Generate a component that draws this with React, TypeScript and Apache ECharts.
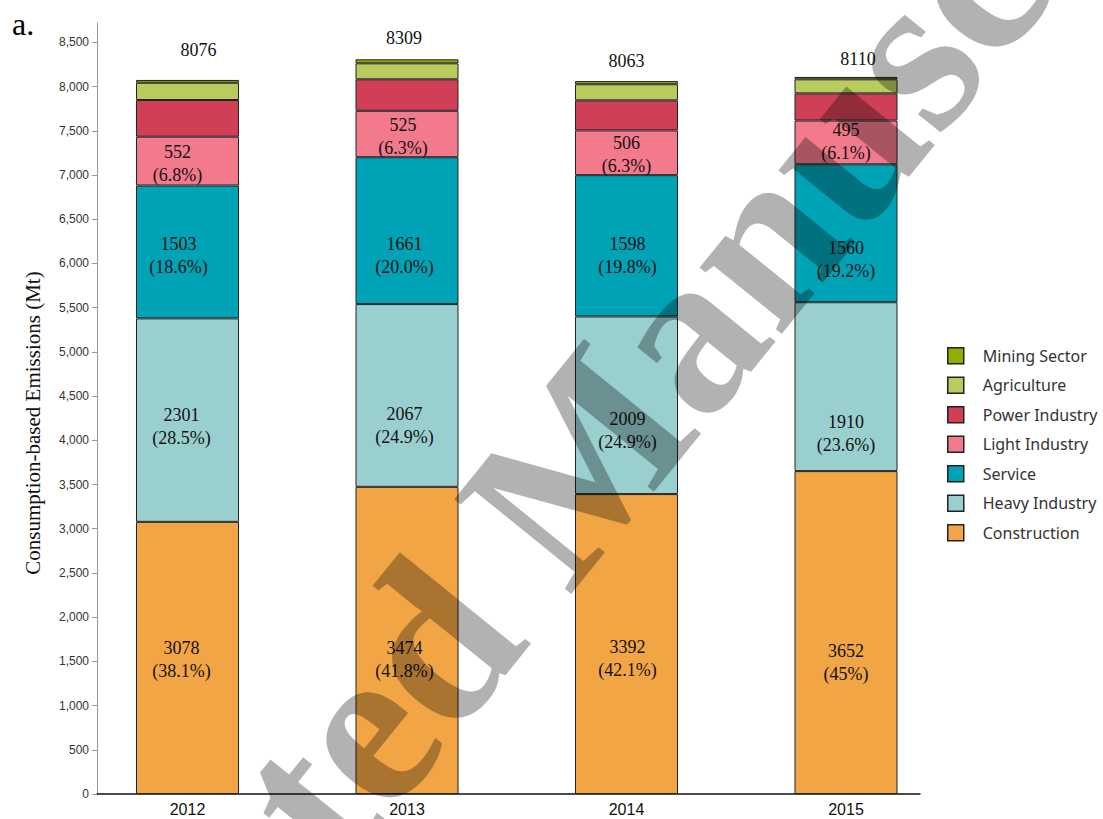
import React, { useEffect, useRef } from "react";
import * as echarts from "echarts";

// Consumption-based emissions by sector (Mt), 2012-2015
const years = ["2012", "2013", "2014", "2015"];
const construction = [3078, 3474, 3392, 3652];
const heavyIndustry = [2301, 2067, 2009, 1910];
const service = [1503, 1661, 1598, 1560];
const lightIndustry = [552, 525, 506, 495];
const powerIndustry = [415, 356, 340, 307];
const agriculture = [195, 181, 182, 159];
const miningSector = [32, 45, 36, 27];
const totals = [8076, 8309, 8063, 8110];

// Shares printed under the values
const constructionPct = ["38.1%", "41.8%", "42.1%", "45%"];
const heavyPct = ["28.5%", "24.9%", "24.9%", "23.6%"];
const servicePct = ["18.6%", "20.0%", "19.8%", "19.2%"];
const lightPct = ["6.8%", "6.3%", "6.3%", "6.1%"];

const yTicks = [0, 500, 1000, 1500, 2000, 2500, 3000, 3500, 4000, 4500, 5000, 5500, 6000, 6500, 7000, 7500, 8000, 8500];
const Y_MAX = 8720;

const SERIF = '"Liberation Serif", "Times New Roman", serif';
const SANS = '"Liberation Sans", Arial, sans-serif';

// Hand placement of the in-bar labels [dx, dy]
const constructionShift = [[-6, 1.5], [-2.5, 19], [1, 14], [0, 30]];
const heavyShift = [[-6, 6], [-2.5, 30], [1, 25], [0, 47]];
const serviceShift = [[-9, 3.5], [-2.5, 25], [1, 10], [0, 26]];
const lightShift = [[-10, 2], [-4, 2], [0, 2], [0, -1]];
const totalShift = [[11, -10.5], [-3, -1.5], [0, -0.5], [12, 1.5]];

const COLORS = {
  mining: "#8db000",
  agriculture: "#b9cb5d",
  power: "#d03f55",
  light: "#f27a8c",
  service: "#00a3b6",
  heavy: "#9acfd0",
  construction: "#f2a545",
};

function segment(
  name: string,
  values: number[],
  color: string,
  pct?: string[],
  shift?: number[][]
) {
  return {
    name,
    type: "bar",
    stack: "total",
    xAxisIndex: 0,
    yAxisIndex: 0,
    barWidth: 103,
    itemStyle: { color, borderColor: "#222", borderWidth: 1 },
    emphasis: { disabled: true },
    label: {
      show: !!pct,
      position: "inside",
      fontFamily: SERIF,
      fontSize: 18,
      lineHeight: 23,
      color: "#111",
    },
    data: values.map((v, i) => ({
      value: v,
      label: pct
        ? { show: true, offset: shift ? shift[i] : [0, 0], formatter: `${v}\n(${pct[i]})` }
        : { show: false },
    })),
  };
}

export default function App() {
  const ref = useRef<HTMLDivElement>(null);

  useEffect(() => {
    if (!ref.current) return;
    const chart = echarts.init(ref.current, undefined, { renderer: "svg" });

    const mining: any = segment("Mining Sector", miningSector, COLORS.mining);
    mining.data = miningSector.map((v, i) => ({
      value: v,
      label: {
        show: true,
        position: "top",
        distance: 8,
        offset: totalShift[i],
        formatter: `${totals[i]}`,
        fontFamily: SERIF,
        fontSize: 18,
        color: "#111",
      },
    }));

    const option: any = {
      animation: false,
      backgroundColor: "#ffffff",
      grid: [
        { left: 77.75, width: 878, top: 23, bottom: 25 },
        { left: 97, right: 183, top: 23, bottom: 25 },
      ],
      xAxis: [
        {
          type: "category",
          gridIndex: 0,
          data: years,
          axisLine: { show: false },
          axisTick: { show: false },
          axisLabel: { fontSize: 16, color: "#111", fontFamily: SANS, margin: 7 },
        },
        {
          type: "value",
          gridIndex: 1,
          min: 0,
          max: 1,
          axisLine: { show: true, lineStyle: { color: "#111", width: 1.5 } },
          axisTick: { show: false },
          axisLabel: { show: false },
          splitLine: { show: false },
        },
      ],
      yAxis: [
        { type: "value", gridIndex: 0, min: 0, max: Y_MAX, show: false },
        {
          type: "value",
          gridIndex: 1,
          min: 0,
          max: Y_MAX,
          axisLine: { show: true, lineStyle: { color: "#999" } },
          axisTick: { show: true, length: 5, customValues: yTicks, lineStyle: { color: "#999" } },
          axisLabel: {
            customValues: yTicks,
            formatter: (v: number) => v.toLocaleString("en-US"),
            fontSize: 12,
            color: "#333",
            fontFamily: SANS,
            margin: 8,
          },
          splitLine: { show: false },
        },
      ],
      legend: {
        orient: "vertical",
        left: 947,
        top: 347,
        padding: 0,
        itemWidth: 16,
        itemHeight: 16,
        itemGap: 12,
        icon: "rect",
        selectedMode: false,
        itemStyle: { borderColor: "#222", borderWidth: 1.5 },
        textStyle: {
          fontFamily: '"Noto Sans", sans-serif',
          fontSize: 16,
          lineHeight: 16,
          color: "#333",
          padding: [0, 0, 0, 14],
        },
        data: [
          "Mining Sector",
          "Agriculture",
          "Power Industry",
          "Light Industry",
          "Service",
          "Heavy Industry",
          "Construction",
        ],
      },
      series: [
        segment("Construction", construction, COLORS.construction, constructionPct, constructionShift),
        segment("Heavy Industry", heavyIndustry, COLORS.heavy, heavyPct, heavyShift),
        segment("Service", service, COLORS.service, servicePct, serviceShift),
        segment("Light Industry", lightIndustry, COLORS.light, lightPct, lightShift),
        segment("Power Industry", powerIndustry, COLORS.power),
        segment("Agriculture", agriculture, COLORS.agriculture),
        mining,
      ],
      graphic: [
        {
          type: "text",
          left: 12,
          top: 8,
          style: { text: "a.", font: `32px ${SERIF}`, fill: "#000" },
        },
        {
          type: "text",
          x: 33,
          y: 423,
          rotation: Math.PI / 2,
          style: {
            text: "Consumption-based Emissions (Mt)",
            font: `21px ${SERIF}`,
            fill: "#111",
            textAlign: "center",
            textVerticalAlign: "middle",
          },
        },
        {
          type: "text",
          x: 567,
          y: 476,
          z: 100,
          rotation: (51 * Math.PI) / 180,
          silent: true,
          style: {
            text: "Accepted Manuscript",
            font: `bold 230px ${SERIF}`,
            fill: "rgba(0,0,0,0.3)",
            textAlign: "center",
            textVerticalAlign: "middle",
          },
        },
      ],
    };

    chart.setOption(option);
    return () => chart.dispose();
  }, []);

  return (
    <div
      ref={ref}
      style={{ position: "fixed", left: 0, top: 0, width: 1103, height: 819, background: "#fff" }}
    />
  );
}
